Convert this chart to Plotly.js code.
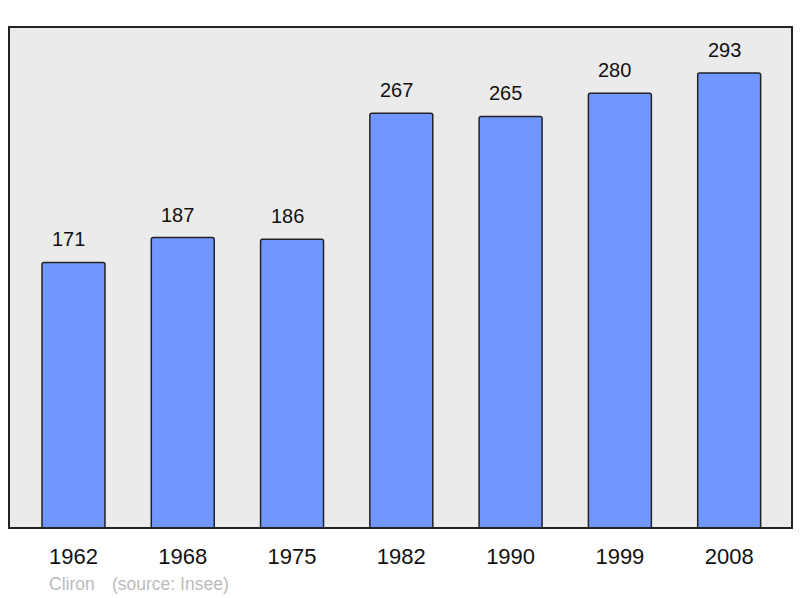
<!DOCTYPE html>
<html>
<head>
<meta charset="utf-8">
<script src="https://cdn.plot.ly/plotly-3.0.1.min.js"></script>
<style>html,body{margin:0;padding:0;background:#fff;}#chart{width:800px;height:598px;}</style>
</head>
<body>
<div id="chart"></div>
<script>
const years = ["1962", "1968", "1975", "1982", "1990", "1999", "2008"];
const population = [171, 187, 186, 267, 265, 280, 293];
const authorText = "Cliron";
const sourceText = "(source: Insee)";

const idx = years.map((_, i) => i);

const trace = {
  type: 'bar',
  x: idx,
  y: population,
  width: 0.576,
  marker: {color: '#7097ff', line: {color: '#222', width: 1.5}, cornerradius: 2},
  hoverinfo: 'skip'
};

const annotations = population.map((v, i) => ({
  x: i, y: v, xref: 'x', yref: 'y', text: String(v), showarrow: false,
  yanchor: 'middle', yshift: 23, xshift: -5,
  font: {family: 'Liberation Sans, Arial, sans-serif', size: 20, color: '#111'}
}));
const footFont = {family: 'Liberation Sans, Arial, sans-serif', size: 17.5, color: '#bbbbbb'};
annotations.push({
  xref: 'paper', yref: 'paper', x: 0.0485, y: -0.112, xanchor: 'left', yanchor: 'middle',
  text: authorText, showarrow: false, font: footFont
});
annotations.push({
  xref: 'paper', yref: 'paper', x: 0.1295, y: -0.112, xanchor: 'left', yanchor: 'middle',
  text: sourceText, showarrow: false, font: footFont
});

const layout = {
  width: 800, height: 598,
  margin: {l: 9, r: 8, t: 27, b: 70},
  paper_bgcolor: '#ffffff',
  plot_bgcolor: '#ebebeb',
  showlegend: false,
  xaxis: {
    range: [-0.59, 6.575], tickvals: idx, ticktext: years, ticks: '',
    showgrid: false, zeroline: false, showline: false,
    ticklabelstandoff: 13,
    tickfont: {family: 'Liberation Sans, Arial, sans-serif', size: 22, color: '#111'},
    fixedrange: true
  },
  yaxis: {
    range: [0, 322.6], showticklabels: false, showgrid: false, zeroline: false, showline: false, ticks: '',
    fixedrange: true
  },
  shapes: [{
    type: 'rect', xref: 'paper', yref: 'paper', x0: 0, x1: 1, y0: 0, y1: 1,
    line: {color: '#222', width: 2}, fillcolor: 'rgba(0,0,0,0)', layer: 'above'
  }],
  annotations: annotations
};

Plotly.newPlot('chart', [trace], layout, {displayModeBar: false, staticPlot: true});
</script>
</body>
</html>
